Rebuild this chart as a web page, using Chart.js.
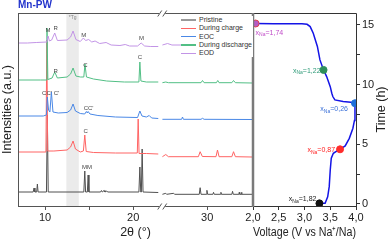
<!DOCTYPE html>
<html>
<head>
<meta charset="utf-8">
<script src="https://cdn.jsdelivr.net/npm/chart.js@4.4.1/dist/chart.umd.min.js"></script>
<style>
  html, body { margin: 0; padding: 0; background: #fff; }
  #wrap { position: relative; width: 389px; height: 243px; overflow: hidden; font-family: 'Liberation Sans', Arial, sans-serif; }
  #xrdChart { position: absolute; left: 0; top: 0; }
  #echemChart { position: absolute; left: 240px; top: 0; }
  #title { position: absolute; left: 18px; top: -1px; font-weight: bold; font-size: 10px; line-height: 11px; color: #2233cc; }
  #xrdLegend { position: absolute; left: 181px; top: 16px; width: 72px; background: #fff; list-style: none; margin: 0; padding: 0; font-size: 7px; color: #333; }
  #xrdLegend li { display: flex; align-items: center; height: 8.3px; line-height: 8.3px; white-space: nowrap; }
  #xrdLegend .swatch { width: 15px; margin-right: 3px; }
</style>
</head>
<body>
<div id="wrap">
  <canvas id="xrdChart" width="254" height="243"></canvas>
  <canvas id="echemChart" width="149" height="243"></canvas>
  <div id="title">Mn-PW</div>
  <ul id="xrdLegend"></ul>
</div>
<script>
Chart.defaults.font.family = "'Liberation Sans', Arial, sans-serif";
Chart.defaults.color = '#222';

// 2θ values past the axis break are shifted left so both segments share one linear scale
const BREAK_AT = 23.3;
const BREAK_GAP = 1.6;
const toAxis = t => (t > BREAK_AT ? t - BREAK_GAP : t);

// XRD patterns: 2θ (deg) and intensity above each trace's own baseline (a.u.)
const seriesNames = ['Pristine', 'During charge', 'EOC', 'During discharge', 'EOD'];
const stackOffsets = [14, 54, 90, 126, 163];

const pristineTheta = [6.93, 8.65, 8.75, 8.85, 9.05, 9.13, 9.21, 10.16, 10.26, 10.36, 14.4, 14.51, 14.6, 14.8, 14.89, 14.98,
  16.3, 16.4, 16.5, 16.7, 16.8, 17.0, 17.1, 20.65, 20.76, 20.86, 20.93, 21.02, 21.12, 22.85, 23.3,
  24.92, 25.3, 25.4, 26.2, 26.3, 29.1, 29.2, 29.3, 29.9, 29.97, 30.05, 30.65, 30.72, 30.8, 31.5, 31.56, 31.62,
  32.8, 32.88, 32.96, 33.6, 33.64, 33.7, 33.85, 33.9, 33.95, 35.1];
const pristineInt = [0, 0, 4, 0, 0, 8, 0, 0, 77, 0, 0, 21, 0, 0, 17, 0,
  0, 1.5, 0, 1.5, 0, 1, 0, 0, 25, 0, 0, 43, 0, -0.5, null,
  -2.3, -1.3, -2.3, -1.3, -2.3, -2.3, 4.3, -2.3, -2.3, 1.7, -2.3, -2.3, -0.3, -2.3, -2.3, -0.3, -2.3,
  -2.3, 0.7, -2.3, -2.3, -0.3, -2.3, -2.3, -0.3, -2.3, -2.3];

const chargeTheta = [6.93, 10.1, 10.2, 10.3, 11.0, 12.5, 12.9, 13.18, 13.45, 14.0, 14.35, 14.51, 14.67, 15.5, 18.0,
  20.47, 20.57, 20.67, 21.5, 22.85, 23.3, 24.92, 25.3, 25.6, 29.0, 29.2, 29.45, 31.0, 31.17, 31.35, 32.8, 32.99, 33.2, 35.1];
const chargeInt = [0, 0, 112, 1, 1, 2, 5, 11, 3, 0, 1, 17, 0.5, -0.5, -1,
  -1, 33, -1.5, -1.5, -2, null, -4.7, -2.5, -4.7, -4.7, 0.3, -4.5, -4.7, 2, -4.7, -4.7, 0.3, -4.7, -5];

const eocTheta = [6.93, 9.8, 10.15, 10.26, 10.4, 10.55, 10.72, 10.9, 11.5, 12.5, 12.9, 13.18, 13.45, 14.0, 14.5, 14.69,
  14.8, 14.89, 15.1, 16.0, 18.0, 20.5, 20.76, 21.0, 21.5, 21.82, 22.1, 22.85, 23.3, 24.92, 27.1, 27.2, 27.3, 29.3, 29.47, 29.65, 35.1];
const eocInt = [0, 0, 1, 19, 6, 4, 24, 4, 3, 3.5, 6, 12, 5, 2.5, 2, 4.5,
  3, 4.5, 2, 0.5, -1, -1.5, 5, 0, -1, 0.5, -2, -2.5, null, -3.3, -3.3, -1, -3.3, -3.3, -2.3, -3.3, -3.5];

const dischargeTheta = [6.93, 9.5, 10.14, 10.22, 10.32, 10.8, 11.1, 11.4, 12.5, 12.9, 13.18, 13.5, 14.0, 14.4, 14.53, 14.7,
  15.5, 17.0, 19.0, 20.65, 20.76, 20.88, 21.5, 22.85, 23.3, 24.92, 25.3, 25.6, 29.3, 29.47, 29.65, 31.05, 31.2, 31.35,
  32.8, 32.99, 33.2, 35.1];
const dischargeInt = [0, 0, 0, 52, 0.5, 2, 8, 2, 3, 6, 12, 4, 3, 3, 16, 3,
  1, -1, -2, -2, 18, -1, -2, -2, null, -2.7, -2, -2.7, -2.7, -0.5, -2.7, -2.7, -0.5, -2.7,
  -2.7, -0.5, -2.7, -3];

const eodTheta = [6.93, 8.0, 9.0, 10.2, 10.34, 10.5, 10.75, 11.1, 11.4, 12.5, 12.9, 13.18, 13.5, 14.0, 14.35, 14.6,
  14.95, 15.3, 15.68, 16.2, 16.93, 17.5, 18.5, 19.1, 19.6, 20.5, 20.91, 21.3, 22.0, 22.85, 23.3, 24.92, 25.5, 26.0, 27.5, 35.1];
const eodInt = [0, 0, 0.5, 1, 7, 2, 3, 10, 2.5, 3, 6, 12, 3.5, 1.5, 5, 2.5,
  3.5, 1, 2, -0.5, 0.5, -2, -2.5, -1.5, -3, -3, 0, -3, -3.5, -3.5, null, -2, -0.5, -2, -2, -2];

// shaded Tg region and x ticks (2θ)
const tgRange = [12.42, 13.83];
const xTickValues = [10, 15, 20, 30];
const xTickLabels = ['10', '', '20', '30'];

// reflection labels: text, 2θ, height on the intensity axis
const peakText = ['M', 'R', 'M', 'M', 'R', 'C', 'C', "CC'", "C'", "CC'", 'C', 'MM'];
const peakTheta = [10.34, 11.2, 14.4, 20.94, 11.2, 14.58, 20.76, 10.22, 11.3, 14.94, 14.62, 14.77];
const peakLevel = [176, 178, 171, 168, 134.7, 141, 148.7, 113, 113, 98, 74.7, 38.7];

// galvanostatic curve: voltage (V) vs time (h)
const curveVoltage = [3.29, 3.40, 3.45, 3.48, 3.50, 3.52, 3.56, 3.64, 3.69, 3.79, 3.87, 3.94, 3.97, 3.98, 3.98,
  3.90, 3.75, 3.59, 3.55, 3.53, 3.50, 3.43, 3.37, 3.30, 3.25, 3.17, 3.11, 3.05, 2.95, 2.70, 2.40, 2.05];
const curveTime = [0.05, 0.06, 0.6, 1.45, 2.85, 3.83, 4.25, 4.47, 4.58, 4.86, 5.5, 6.35, 7.0, 7.6, 8.44,
  8.52, 8.58, 8.72, 9.0, 9.28, 9.83, 10.67, 11.23, 12.07, 13.2, 14.3, 14.86, 15.05, 15.1, 15.1, 15.1, 15.12];

// sampled states (x_Na)
const markerVoltage = [3.29, 3.69, 3.98, 3.37, 2.05];
const markerTime = [0.05, 4.58, 8.44, 11.23, 15.12];
const markerXNa = ['1,82', '0,87', '0,26', '1,22', '1,74'];
const voltageTicks = [2.0, 2.5, 3.0, 3.5, 4.0];
const timeTicks = [0, 2.5, 5, 7.5, 10, 12.5, 15];

// styles
const seriesColors = ['#505050', '#ff6464', '#4a88e6', '#52bf85', '#c294e6'];
const legendColors = ['#9a9a9a', '#ff6464', '#4a88e6', '#52bf85', '#c294e6'];
const markerFill = ['#111111', '#ff2b2b', '#1e6fd9', '#2f8f5b', '#b45cc4'];
const markerEdge = ['#111111', '#ff2b2b', '#1e6fd9', '#2f8f5b', '#e0404a'];
const markerLabelColor = ['#222222', '#ff2020', '#3a70d8', '#2e9a78', '#c04cc8'];
// label anchor relative to its marker: [dx, dy, align]
const markerLabelPos = [[-3, -2, 'right'], [-5, 3, 'right'], [-7, 8, 'right'], [-3, 3, 'right'], [0, 11, 'left']];

function trace(theta, inten, offset) {
  return theta.map((t, i) => ({ x: toAxis(t), y: inten[i] === null ? null : inten[i] + offset }));
}

const legendEl = document.getElementById('xrdLegend');
seriesNames.forEach((name, i) => {
  const li = document.createElement('li');
  const h = i === 0 ? 2.5 : 1.5;
  li.innerHTML = `<span class="swatch" style="height:${h}px;background:${legendColors[i]}"></span><span>${name}</span>`;
  legendEl.appendChild(li);
});

const tgBand = {
  id: 'tgBand',
  beforeDatasetsDraw(chart) {
    const { ctx, chartArea: a, scales: { x } } = chart;
    const x0 = x.getPixelForValue(toAxis(tgRange[0]));
    const x1 = x.getPixelForValue(toAxis(tgRange[1]));
    ctx.save();
    ctx.fillStyle = '#ebebeb';
    ctx.fillRect(x0, a.top, x1 - x0, a.bottom - a.top);
    ctx.fillStyle = '#888';
    ctx.font = "5px 'Liberation Sans', Arial, sans-serif";
    ctx.textAlign = 'center';
    ctx.fillText('*Tg', (x0 + x1) / 2, a.top + 6);
    ctx.restore();
  }
};

const xrdFrame = {
  id: 'xrdFrame',
  afterDraw(chart) {
    const { ctx, chartArea: a, scales: { x } } = chart;
    ctx.save();
    ctx.strokeStyle = '#555';
    ctx.lineWidth = 1;
    ctx.strokeRect(a.left + 0.5, a.top + 0.5, a.right - a.left, a.bottom - a.top);
    const xb = x.getPixelForValue(BREAK_AT);
    [a.top + 0.5, a.bottom + 0.5].forEach(yb => {
      ctx.fillStyle = '#fff';
      ctx.fillRect(xb - 3, yb - 1.5, 6, 3);
      ctx.beginPath();
      [-2.5, 2.5].forEach(dx => {
        ctx.moveTo(xb + dx - 2, yb + 3);
        ctx.lineTo(xb + dx + 2, yb - 3);
      });
      ctx.stroke();
    });
    ctx.restore();
  }
};

const peakLabels = {
  id: 'peakLabels',
  afterDatasetsDraw(chart) {
    const { ctx, scales: { x, y } } = chart;
    ctx.save();
    ctx.fillStyle = '#444';
    ctx.font = "6px 'Liberation Sans', Arial, sans-serif";
    ctx.textAlign = 'center';
    ctx.textBaseline = 'middle';
    peakText.forEach((txt, i) => {
      ctx.fillText(txt, x.getPixelForValue(toAxis(peakTheta[i])), y.getPixelForValue(peakLevel[i]));
    });
    ctx.restore();
  }
};

// XRD panel: drawn EOD first so the upper traces sit on top
const drawOrder = [4, 3, 2, 1, 0];
const traces = [
  [pristineTheta, pristineInt], [chargeTheta, chargeInt], [eocTheta, eocInt],
  [dischargeTheta, dischargeInt], [eodTheta, eodInt]
];

new Chart(document.getElementById('xrdChart'), {
  type: 'line',
  data: {
    datasets: drawOrder.map(i => ({
      label: seriesNames[i],
      data: trace(traces[i][0], traces[i][1], stackOffsets[i]),
      borderColor: seriesColors[i],
      borderWidth: 1,
      pointRadius: 0,
      tension: 0,
      spanGaps: false
    }))
  },
  options: {
    responsive: false,
    animation: false,
    devicePixelRatio: 1,
    layout: { padding: { top: 13, right: 1, left: 0, bottom: 0 } },
    plugins: { legend: { display: false }, tooltip: { enabled: false } },
    scales: {
      x: {
        type: 'linear',
        min: toAxis(6.93),
        max: toAxis(35.2),
        afterBuildTicks: s => { s.ticks = xTickValues.map(v => ({ value: toAxis(v) })); },
        afterFit: s => { s.height = 37; },
        ticks: {
          callback: (v, i) => xTickLabels[i],
          autoSkip: false, maxRotation: 0, padding: 1,
          font: { size: 11 }, color: '#222'
        },
        grid: { drawOnChartArea: false, tickLength: 4, color: '#555' },
        border: { display: false },
        title: { display: true, text: '2θ (°)', font: { size: 12.5 }, color: '#222', padding: { top: 0, bottom: 3 } }
      },
      y: {
        min: 0,
        max: 193,
        afterFit: s => { s.width = 18; },
        ticks: { display: false },
        grid: { display: false },
        border: { display: false },
        title: { display: true, text: 'Intensities (a.u.)', font: { size: 12.5 }, color: '#222', padding: { top: 0, bottom: 0 } }
      }
    }
  },
  plugins: [tgBand, xrdFrame, peakLabels]
});

const echemFrame = {
  id: 'echemFrame',
  afterDraw(chart) {
    const { ctx, chartArea: a } = chart;
    ctx.save();
    ctx.strokeStyle = '#333';
    ctx.lineWidth = 1;
    ctx.beginPath();
    ctx.moveTo(a.left, a.top + 0.5);
    ctx.lineTo(a.right + 0.5, a.top + 0.5);
    ctx.lineTo(a.right + 0.5, a.bottom + 0.5);
    ctx.lineTo(a.left, a.bottom + 0.5);
    ctx.stroke();
    ctx.strokeStyle = '#7a7a7a';
    ctx.lineWidth = 2.5;
    ctx.beginPath();
    ctx.moveTo(a.left, a.top);
    ctx.lineTo(a.left, a.bottom + 1);
    ctx.stroke();
    // rotated right-hand title, reading bottom to top
    ctx.fillStyle = '#222';
    ctx.font = "12.5px 'Liberation Sans', Arial, sans-serif";
    ctx.textAlign = 'center';
    ctx.textBaseline = 'middle';
    ctx.translate(chart.width - 7, (a.top + a.bottom) / 2);
    ctx.rotate(-Math.PI / 2);
    ctx.fillText('Time (h)', 0, 0);
    ctx.restore();
  }
};

const xNaLabels = {
  id: 'xNaLabels',
  afterDatasetsDraw(chart) {
    const { ctx } = chart;
    const meta = chart.getDatasetMeta(0);
    ctx.save();
    ctx.textBaseline = 'alphabetic';
    ctx.textAlign = 'left';
    meta.data.forEach((pt, i) => {
      const [dx, dy, align] = markerLabelPos[i];
      const big = "7px 'Liberation Sans', Arial, sans-serif";
      const small = "5px 'Liberation Sans', Arial, sans-serif";
      const tail = '=' + markerXNa[i];
      ctx.font = big;
      const wx = ctx.measureText('x').width;
      const wt = ctx.measureText(tail).width;
      ctx.font = small;
      const wn = ctx.measureText('Na').width;
      const total = wx + wn + wt;
      let x0 = pt.x + dx - (align === 'right' ? total : 0);
      const y0 = pt.y + dy;
      ctx.fillStyle = markerLabelColor[i];
      ctx.font = big;
      ctx.fillText('x', x0, y0);
      ctx.font = small;
      ctx.fillText('Na', x0 + wx, y0 + 1.5);
      ctx.font = big;
      ctx.fillText(tail, x0 + wx + wn, y0);
    });
    ctx.restore();
  }
};

new Chart(document.getElementById('echemChart'), {
  type: 'scatter',
  data: {
    datasets: [
      {
        label: 'x_Na',
        data: markerVoltage.map((v, i) => ({ x: v, y: markerTime[i] })),
        pointRadius: 3.5,
        pointBackgroundColor: markerFill,
        pointBorderColor: markerEdge,
        pointBorderWidth: 1
      },
      {
        label: 'Voltage',
        data: curveVoltage.map((v, i) => ({ x: v, y: curveTime[i] })),
        showLine: true,
        borderColor: '#1414e6',
        borderWidth: 1.5,
        pointRadius: 0,
        tension: 0
      }
    ]
  },
  options: {
    responsive: false,
    animation: false,
    devicePixelRatio: 1,
    layout: { padding: { top: 13, right: 0, left: 13, bottom: 0 } },
    plugins: { legend: { display: false }, tooltip: { enabled: false } },
    scales: {
      x: {
        type: 'linear',
        min: 2,
        max: 4,
        afterBuildTicks: s => { s.ticks = voltageTicks.map(v => ({ value: v })); },
        afterFit: s => { s.height = 37; },
        ticks: {
          callback: v => v.toFixed(1).replace('.', ','),
          autoSkip: false, maxRotation: 0, padding: 1,
          font: { size: 11 }, color: '#222'
        },
        grid: { drawOnChartArea: false, tickLength: 4, color: '#333' },
        border: { display: false },
        title: { display: true, text: 'Voltage (V vs Na⁺/Na)', font: { size: 12.5 }, color: '#222', padding: { top: 0, bottom: 3 } }
      },
      y: {
        type: 'linear',
        position: 'right',
        min: -0.17,
        max: 16,
        afterBuildTicks: s => { s.ticks = timeTicks.map(v => ({ value: v })); },
        afterFit: s => { s.width = 33; },
        ticks: {
          callback: v => (v % 5 === 0 ? String(v) : ''),
          autoSkip: false, padding: 2,
          font: { size: 11 }, color: '#222'
        },
        grid: { drawOnChartArea: false, tickLength: 4, color: '#333' },
        border: { display: false }
      }
    }
  },
  plugins: [echemFrame, xNaLabels]
});
</script>
</body>
</html>
